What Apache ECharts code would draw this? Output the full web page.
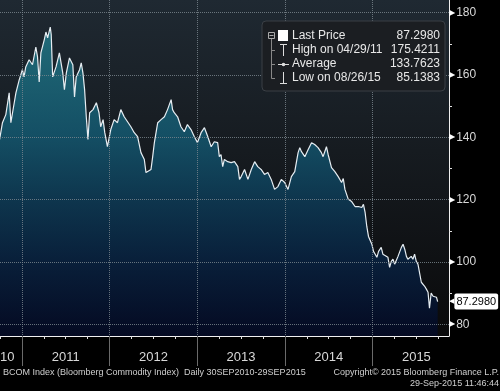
<!DOCTYPE html>
<html><head><meta charset="utf-8">
<script src="https://cdn.jsdelivr.net/npm/echarts@6/dist/echarts.min.js"></script>
<style>html,body{margin:0;padding:0;background:#000;}#c{width:500px;height:391px;}</style>
</head><body><div id="c"></div>
<script>
// ---- data ----
const dates = [
"2010-09-30","2010-10-12","2010-10-26","2010-11-09","2010-11-16","2010-11-23","2010-12-07","2010-12-21",
"2011-01-03","2011-01-10","2011-01-17","2011-01-31","2011-02-14","2011-02-28","2011-03-07","2011-03-14","2011-03-21",
"2011-04-04","2011-04-11","2011-04-18","2011-04-29","2011-05-03","2011-05-09","2011-05-23","2011-06-06","2011-06-20",
"2011-06-27","2011-07-05","2011-07-18","2011-08-01","2011-08-08","2011-08-15","2011-08-29","2011-09-05","2011-09-12",
"2011-09-19","2011-09-26","2011-10-03","2011-10-10","2011-10-24","2011-11-07","2011-11-18","2011-11-25","2011-12-05",
"2011-12-12","2011-12-23","2012-01-06","2012-01-20","2012-02-03","2012-02-17","2012-02-24","2012-03-02","2012-03-16",
"2012-03-30","2012-04-13","2012-04-27","2012-05-11","2012-05-25","2012-06-01","2012-06-08","2012-06-22","2012-06-29",
"2012-07-06","2012-07-20","2012-08-03","2012-08-17","2012-08-30","2012-09-14","2012-09-20","2012-09-27","2012-10-11",
"2012-10-25","2012-11-08","2012-11-21","2012-12-06","2012-12-20","2013-01-02","2013-01-17","2013-01-31","2013-02-14",
"2013-02-28","2013-03-13","2013-03-27","2013-04-03","2013-04-10","2013-04-17","2013-04-24","2013-05-08","2013-05-22",
"2013-06-05","2013-06-19","2013-06-26","2013-07-03","2013-07-17","2013-07-31","2013-08-14","2013-08-28","2013-09-10",
"2013-09-24","2013-10-08","2013-10-22","2013-11-05","2013-11-19","2013-12-03","2013-12-17","2013-12-31","2014-01-14",
"2014-01-28","2014-02-11","2014-02-25","2014-03-04","2014-03-11","2014-03-25","2014-04-08","2014-04-22","2014-04-28",
"2014-05-05","2014-05-19","2014-06-02","2014-06-09","2014-06-16","2014-06-23","2014-06-30","2014-07-14","2014-07-28",
"2014-08-11","2014-08-25","2014-09-01","2014-09-08","2014-09-22","2014-10-06","2014-10-20","2014-11-03","2014-11-17",
"2014-11-24","2014-12-01","2014-12-08","2014-12-15","2014-12-29","2015-01-05","2015-01-12","2015-01-19","2015-01-26",
"2015-02-06","2015-02-13","2015-02-20","2015-03-06","2015-03-13","2015-03-20","2015-03-27","2015-04-03","2015-04-17",
"2015-05-01","2015-05-08","2015-05-15","2015-05-22","2015-05-28","2015-06-11","2015-06-18","2015-06-25","2015-07-02",
"2015-07-09","2015-07-23","2015-08-06","2015-08-13","2015-08-20","2015-08-26","2015-09-02","2015-09-10","2015-09-17",
"2015-09-24","2015-09-29"
];
const prices = [
139.3,144.7,147.3,154.3,144.7,147.9,154.3,158.5,
161.7,159.4,162.6,164.9,163.3,169.0,165.8,157.8,167.1,
171.3,173.8,171.9,175.4,173.0,159.4,162.6,167.1,160.7,
155.3,160.7,165.5,163.3,153.0,159.4,161.7,163.9,160.7,
155.3,146.6,139.3,147.9,148.9,151.1,147.9,143.4,145.7,
141.5,137.0,142.5,145.7,144.7,148.9,149.5,146.6,145.0,
143.4,141.5,140.2,135.1,132.9,128.7,128.1,129.7,133.8,
138.3,144.7,145.7,146.6,148.9,152.1,148.9,147.9,146.6,
143.4,141.8,144.1,142.5,140.2,138.3,141.5,143.1,140.2,
137.0,138.6,138.3,133.8,134.5,130.6,132.9,132.2,131.9,
132.2,130.6,126.5,127.4,129.7,126.5,129.7,132.2,130.6,
129.7,128.1,128.7,126.5,123.3,124.2,126.5,125.5,123.3,
127.4,129.0,135.1,136.7,135.4,133.8,136.1,138.3,138.6,
137.7,136.7,135.1,133.8,135.4,137.0,134.5,130.3,129.0,
127.4,125.5,126.8,123.3,120.1,119.4,117.8,117.8,117.5,
118.5,115.9,111.4,108.2,105.7,103.4,102.5,101.5,103.4,
104.7,102.5,103.1,101.5,98.3,100.2,100.9,99.3,101.8,
104.7,105.7,104.1,101.8,100.9,101.8,100.9,102.5,100.2,
99.3,93.5,92.2,91.3,90.3,85.14,90.0,89.0,89.0,
88.7,87.298
];
const yearLines = [2011, 2012, 2013, 2014, 2015];
const yearLabelAt = [2010.75, 2011.5, 2012.5, 2013.5, 2014.5, 2015.5];
const priceLabels = [80, 100, 120, 140, 160, 180];
const priceMinor = [90, 110, 130, 150, 170];
const lastPrice = 87.298;
const legendNames = ["Last Price", "High on 04/29/11", "Average", "Low on 08/26/15"];
const legendValues = ["87.2980", "175.4211", "133.7623", "85.1383"];
const footerLeft = "BCOM Index (Bloomberg Commodity Index)  Daily 30SEP2010-29SEP2015";
const footerRight1 = "Copyright\u00A9 2015 Bloomberg Finance L.P.";
const footerRight2 = "29-Sep-2015 11:46:44";

// ---- helpers ----
function toYear(s) {
  const d = new Date(s + "T00:00:00Z");
  const y = d.getUTCFullYear();
  const a = Date.UTC(y, 0, 1), b = Date.UTC(y + 1, 0, 1);
  return y + (d.getTime() - a) / (b - a);
}
const seriesData = dates.map((d, i) => [toYear(d), prices[i]]);
const xMin = 2010.75, xMax = 2015.872;
const yMin = 76.25, yMax = 184.08;
const quarterTicks = [];
for (let q = 2010.75; q <= 2015.76; q += 0.25) quarterTicks.push(Math.round(q * 100) / 100);

const FONT = '"Liberation Sans", Arial, sans-serif';
const gridColor = '#7d8890';

const G = [];
const bx = 262, by = 21, bw = 183, bh = 70;
G.push({ type: 'rect', z: 100, shape: { x: bx, y: by, width: bw, height: bh, r: 4 }, style: { fill: '#1b1e22', stroke: '#3a3f45', lineWidth: 1 } });
const rowY = [36, 50, 64, 78];
G.push({ type: 'rect', z: 101, shape: { x: 268.5, y: 32.5, width: 6, height: 6 }, style: { fill: 'none', stroke: '#aaa', lineWidth: 1 } });
G.push({ type: 'line', z: 101, shape: { x1: 269.5, y1: 35.5, x2: 273.5, y2: 35.5 }, style: { stroke: '#aaa', lineWidth: 1 } });
G.push({ type: 'line', z: 101, shape: { x1: 271.5, y1: 39, x2: 271.5, y2: 78.5 }, style: { stroke: '#888', lineWidth: 1 } });
[50, 64, 78].forEach(y => G.push({ type: 'line', z: 101, shape: { x1: 271.5, y1: y + 0.5, x2: 275, y2: y + 0.5 }, style: { stroke: '#888', lineWidth: 1 } }));
G.push({ type: 'rect', z: 101, shape: { x: 278, y: 30, width: 10, height: 11 }, style: { fill: '#fff' } });
G.push({ type: 'line', z: 101, shape: { x1: 283.5, y1: 44.5, x2: 283.5, y2: 56 }, style: { stroke: '#ddd', lineWidth: 1 } });
G.push({ type: 'line', z: 101, shape: { x1: 280, y1: 44.5, x2: 287, y2: 44.5 }, style: { stroke: '#ddd', lineWidth: 1 } });
G.push({ type: 'line', z: 101, shape: { x1: 278, y1: 64.5, x2: 289, y2: 64.5 }, style: { stroke: '#ddd', lineWidth: 1 } });
G.push({ type: 'circle', z: 101, shape: { cx: 283.5, cy: 64.5, r: 1.8 }, style: { fill: '#ddd' } });
G.push({ type: 'line', z: 101, shape: { x1: 283.5, y1: 72, x2: 283.5, y2: 83.5 }, style: { stroke: '#ddd', lineWidth: 1 } });
G.push({ type: 'line', z: 101, shape: { x1: 280, y1: 83.5, x2: 287, y2: 83.5 }, style: { stroke: '#ddd', lineWidth: 1 } });
legendNames.forEach((n, i) => {
  G.push({ type: 'text', z: 101, style: { text: n, x: 292, y: rowY[i], fill: '#e8e8e8', font: '12px ' + FONT, verticalAlign: 'middle', align: 'left' } });
  G.push({ type: 'text', z: 101, style: { text: legendValues[i], x: 440, y: rowY[i], fill: '#e8e8e8', font: '12px ' + FONT, verticalAlign: 'middle', align: 'right' } });
});
G.push({ type: 'text', style: { text: footerLeft, x: 3, y: 373, fill: '#cfcfcf', font: '9px ' + FONT, verticalAlign: 'middle', align: 'left' } });
G.push({ type: 'text', style: { text: footerRight1, x: 499, y: 373, fill: '#cfcfcf', font: '9px ' + FONT, verticalAlign: 'middle', align: 'right' } });
G.push({ type: 'text', style: { text: footerRight2, x: 499, y: 384, fill: '#cfcfcf', font: '9px ' + FONT, verticalAlign: 'middle', align: 'right' } });

const dashed = { show: true, lineStyle: { color: gridColor, type: 'dotted', width: 1, opacity: 0.8 } };

const chart = echarts.init(document.getElementById('c'), null, { renderer: 'canvas' });
chart.setOption({
  backgroundColor: '#000',
  animation: false,
  textStyle: { fontFamily: FONT },
  grid: {
    left: 0, right: 51, top: 0, bottom: 55, show: true, borderWidth: 0,
    containLabel: false, outerBoundsMode: 'none',
    backgroundColor: { type: 'linear', x: 0, y: 0, x2: 0, y2: 1, colorStops: [
      { offset: 0, color: '#1f2932' }, { offset: 0.45, color: '#161b20' }, { offset: 1, color: '#0a0a0b' } ] }
  },
  xAxis: [{
    type: 'value', min: xMin, max: xMax, position: 'bottom', z: 10,
    axisLine: { show: true, lineStyle: { color: '#f0f0f0', width: 1 } },
    axisTick: { show: true, customValues: quarterTicks, length: 3, lineStyle: { color: '#e0e0e0' } },
    axisLabel: { show: true, customValues: yearLabelAt, formatter: v => String(Math.floor(v + 1e-6)),
      color: '#d8d8d8', fontSize: 13, margin: 15, showMinLabel: true },
    splitLine: { show: false }
  }, {
    type: 'value', min: xMin, max: xMax, position: 'bottom', z: 10,
    axisLine: { show: false },
    axisTick: { show: true, customValues: yearLines, length: 30, lineStyle: { color: '#6a6a6a' } },
    axisLabel: { show: false },
    splitLine: dashed
  }],
  yAxis: [{
    type: 'value', position: 'right', min: yMin, max: yMax, z: 10,
    axisLine: { show: true, lineStyle: { color: '#f0f0f0', width: 1 } },
    axisTick: { show: true, customValues: priceMinor, length: 3, lineStyle: { color: '#e0e0e0' } },
    axisLabel: { show: true, customValues: priceLabels, margin: 0,
      formatter: v => '{t|\u25B6}{v|' + v + '}',
      rich: { t: { fontSize: 8, color: '#fff', fontFamily: 'DejaVu Sans' }, v: { fontSize: 12, color: '#d8d8d8', padding: [0, 0, 0, 1] } } },
    splitLine: { show: false }
  }, {
    type: 'value', position: 'right', min: yMin, max: yMax, z: 10,
    axisLine: { show: false },
    axisTick: { show: true, length: 0, customValues: priceLabels, lineStyle: { opacity: 0 } },
    axisLabel: { show: false },
    splitLine: dashed
  }, {
    type: 'value', position: 'right', min: yMin, max: yMax, z: 12,
    axisLine: { show: false },
    axisTick: { show: false, customValues: [lastPrice] },
    axisLabel: { show: true, customValues: [lastPrice], margin: 0,
      formatter: v => '{a|\u25C0}{b|' + v.toFixed(4) + '}',
      rich: { a: { fontSize: 7, color: '#fff', fontFamily: 'DejaVu Sans' },
              b: { fontSize: 11, color: '#000', backgroundColor: '#fff', padding: [3, 2, 2, 2], borderRadius: 2 } } },
    splitLine: { show: false }
  }],
  graphic: { elements: G },
  series: [{
    type: 'line', xAxisIndex: 0, yAxisIndex: 0, data: seriesData, showSymbol: false, symbol: 'none',
    lineStyle: { color: '#e6edf2', width: 1.2 },
    areaStyle: { origin: 'start', color: { type: 'linear', x: 0, y: 0, x2: 0, y2: 336, global: true, colorStops: [
      { offset: 0, color: '#2b93a3' }, { offset: 0.15, color: '#1f8193' }, { offset: 0.4, color: '#136581' },
      { offset: 0.58, color: '#0c4565' }, { offset: 0.78, color: '#06254a' }, { offset: 1, color: '#020a2c' } ] } }
  }]
});
</script></body></html>
